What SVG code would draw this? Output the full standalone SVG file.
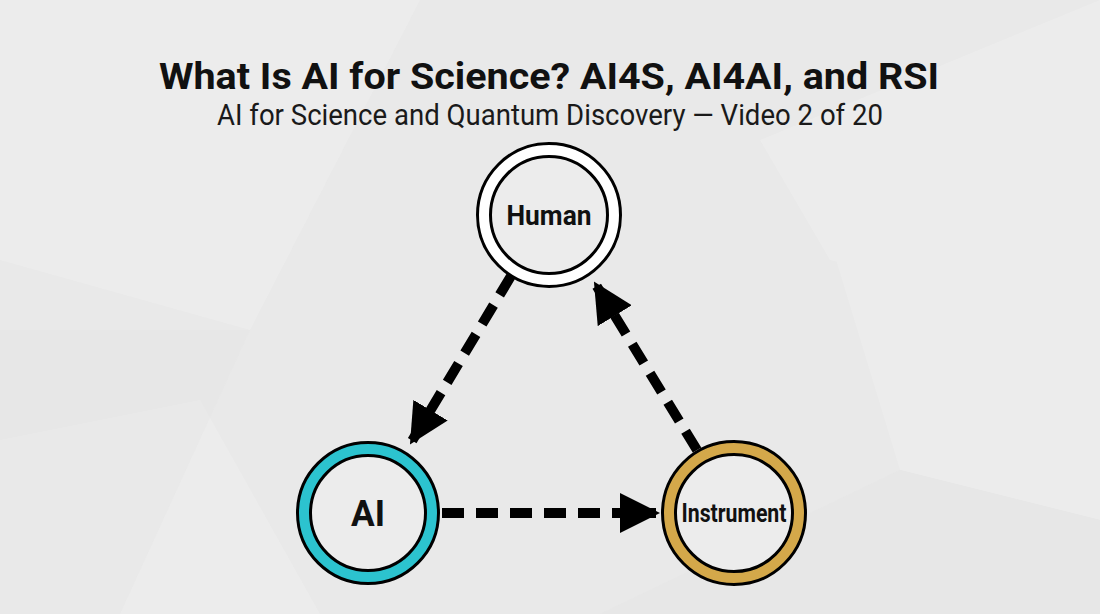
<svg xmlns="http://www.w3.org/2000/svg" width="1100" height="614" viewBox="0 0 1100 614">
  <defs>
    <style>
      .title{font-family:Roboto,"Liberation Sans",sans-serif;font-weight:700;fill:#111;}
      .sub{font-family:Roboto,"Liberation Sans",sans-serif;font-weight:400;fill:#1a1a1a;}
      .lbl{font-family:Roboto,"Liberation Sans",sans-serif;font-weight:700;fill:#111;}
      .edge{stroke:#000;stroke-width:10;stroke-dasharray:22 12;fill:none;}
      .outline{fill:none;stroke:#000;stroke-width:3;}
    </style>
    <marker id="arr" viewBox="0 0 10 10" refX="9" refY="5" markerWidth="4" markerHeight="4" markerUnits="strokeWidth" orient="auto">
      <path d="M0,0 L10,5 L0,10 z" fill="#000"/>
    </marker>
  </defs>

  <rect width="1100" height="614" fill="#e9e9e9"/>
  <g fill="#efefef" opacity="0.6">
    <polygon points="0,0 420,0 250,330 0,260"/>
    <polygon points="760,140 1100,0 1100,330 830,260"/>
    <polygon points="0,440 200,400 320,614 0,614"/>
    <polygon points="830,240 1100,180 1100,520 900,470"/>
  </g>
  <g fill="#e5e5e5" opacity="0.5">
    <polygon points="0,330 250,330 120,614 0,614"/>
    <polygon points="600,614 900,470 1100,520 1100,614"/>
  </g>

  <text class="title" x="549" y="89" font-size="37" text-anchor="middle" textLength="780" lengthAdjust="spacingAndGlyphs">What Is AI for Science? AI4S, AI4AI, and RSI</text>
  <text class="sub" x="550" y="125" font-size="29" text-anchor="middle" textLength="666" lengthAdjust="spacingAndGlyphs">AI for Science and Quantum Discovery — Video 2 of 20</text>

  <g id="connectors">
    <line class="edge" x1="511" y1="276" x2="412" y2="441" marker-end="url(#arr)"/>
    <line class="edge" x1="697" y1="450" x2="596" y2="285" marker-end="url(#arr)"/>
    <line class="edge" x1="442" y1="513" x2="656" y2="513" marker-end="url(#arr)"/>
  </g>

  <g id="human">
    <circle cx="549" cy="215" r="65" fill="#ececec" stroke="#fff" stroke-width="13"/>
    <circle class="outline" cx="549" cy="215" r="71.5"/>
    <circle class="outline" cx="549" cy="215" r="58.5"/>
    <text class="lbl" x="549" y="225" font-size="28" text-anchor="middle" textLength="85" lengthAdjust="spacingAndGlyphs">Human</text>
  </g>

  <g id="ai">
    <circle cx="368" cy="513" r="64" fill="#ececec" stroke="#2cc3cf" stroke-width="13"/>
    <circle class="outline" cx="368" cy="513" r="70.5"/>
    <circle class="outline" cx="368" cy="513" r="57.5"/>
    <text class="lbl" x="368" y="526" font-size="37" text-anchor="middle" textLength="34" lengthAdjust="spacingAndGlyphs">AI</text>
  </g>

  <g id="instrument">
    <circle cx="734" cy="513" r="65" fill="#ececec" stroke="#d4a84a" stroke-width="13"/>
    <circle class="outline" cx="734" cy="513" r="71.5"/>
    <circle class="outline" cx="734" cy="513" r="58.5"/>
    <text class="lbl" x="734" y="522" font-size="26" text-anchor="middle" textLength="105" lengthAdjust="spacingAndGlyphs">Instrument</text>
  </g>
</svg>
